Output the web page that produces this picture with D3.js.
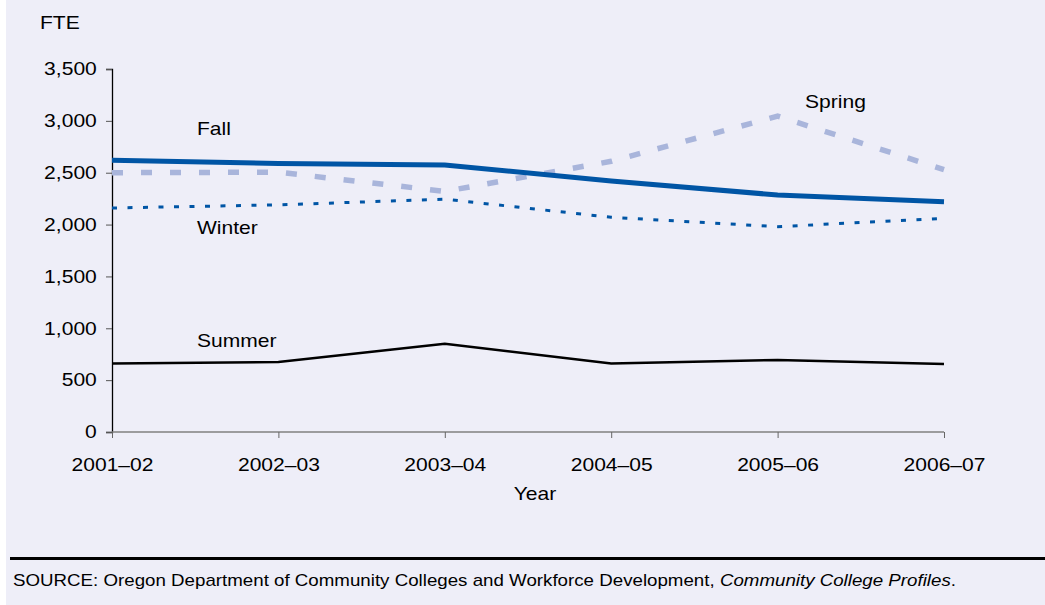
<!DOCTYPE html>
<html>
<head>
<meta charset="utf-8">
<script src="https://cdn.jsdelivr.net/npm/d3@7"></script>
<style>
  body { margin: 0; background: #fff; }
  svg { display: block; font-family: "Liberation Sans", Arial, sans-serif; }
</style>
</head>
<body>
<div id="chart"></div>
<script>
const years = ["2001–02", "2002–03", "2003–04", "2004–05", "2005–06", "2006–07"];
const fall = [2620, 2590, 2575, 2420, 2285, 2220];
const spring = [2500, 2505, 2320, 2610, 3045, 2530];
const winter = [2160, 2190, 2245, 2070, 1980, 2060];
const summer = [660, 675, 850, 660, 695, 655];
const yTicks = [0, 500, 1000, 1500, 2000, 2500, 3000, 3500];

drawChart();

function drawChart () {
  const width = 1045;
  const height = 605;
  const stretch = 1.17; // reference text is a bit wide

  const svg = d3.select("#chart")
    .append("svg")
      .attr("width", width)
      .attr("height", height);

  // panel background
  svg.append("rect")
    .attr("x", 6).attr("y", 0)
    .attr("width", width - 6).attr("height", height)
    .attr("fill", "#eeeef8");

  const x = d3.scalePoint()
    .domain(years)
    .range([112, 944]);

  const y = d3.scaleLinear()
    .domain([0, 3500])
    .range([432, 69]);

  // y axis
  const yAxis = svg.append("g")
    .attr("transform", "translate(112,0)")
    .call(d3.axisLeft(y).tickValues(yTicks).tickSize(6)
      .tickFormat(d3.format(",")));
  yAxis.select(".domain").attr("stroke", "#000").attr("stroke-width", 1.3);
  yAxis.selectAll(".tick line").attr("stroke", "#555");
  yAxis.selectAll("text")
    .attr("x", -13)
    .attr("font-size", 18).attr("fill", "#000")
    .attr("font-family", "Liberation Sans, Arial, sans-serif")
    .attr("transform", `scale(${stretch},1)`);

  // x axis
  const xAxis = svg.append("g")
    .attr("transform", "translate(0,432)")
    .call(d3.axisBottom(x).tickSize(6));
  xAxis.select(".domain").attr("stroke", "#808080").attr("stroke-width", 1.3)
    .attr("d", "M112,0H944");
  xAxis.selectAll(".tick line").attr("stroke", "#666");
  xAxis.selectAll("text")
    .attr("y", 26)
    .attr("font-size", 18).attr("fill", "#000")
    .attr("font-family", "Liberation Sans, Arial, sans-serif")
    .attr("transform", `scale(${stretch},1)`);

  const line = d3.line()
    .x((d, i) => x(years[i]))
    .y(d => y(d));

  const series = [
    { values: summer, color: "#000", width: 2.5, dash: null },
    { values: winter, color: "#0055a5", width: 3, dash: "5,10.5" },
    { values: spring, color: "#a9b5db", width: 5.5, dash: "11,18" },
    { values: fall, color: "#0055a5", width: 5, dash: null }
  ];

  series.forEach(s => {
    svg.append("path")
      .datum(s.values)
      .attr("d", line)
      .attr("fill", "none")
      .attr("stroke", s.color)
      .attr("stroke-width", s.width)
      .attr("stroke-dasharray", s.dash);
  });

  function addText (txt, tx, ty, size, anchor) {
    return svg.append("text")
      .attr("transform", `translate(${tx},${ty}) scale(${stretch},1)`)
      .attr("font-size", size)
      .attr("text-anchor", anchor || "start")
      .text(txt);
  }

  // series labels
  addText("Fall", 197, 135, 18);
  addText("Winter", 197, 234, 18);
  addText("Spring", 805, 108, 18);
  addText("Summer", 197, 347, 18);

  addText("FTE", 40, 29, 18);
  addText("Year", 535, 500, 18, "middle");

  // footer rule and source
  svg.append("rect")
    .attr("x", 10).attr("y", 557)
    .attr("width", width - 10).attr("height", 3)
    .attr("fill", "#000");

  const src = addText("", 13, 586, 16);
  src.append("tspan").text("SOURCE: Oregon Department of Community Colleges and Workforce Development, ");
  src.append("tspan").attr("font-style", "italic").text("Community College Profiles");
  src.append("tspan").text(".");
}
</script>
</body>
</html>
